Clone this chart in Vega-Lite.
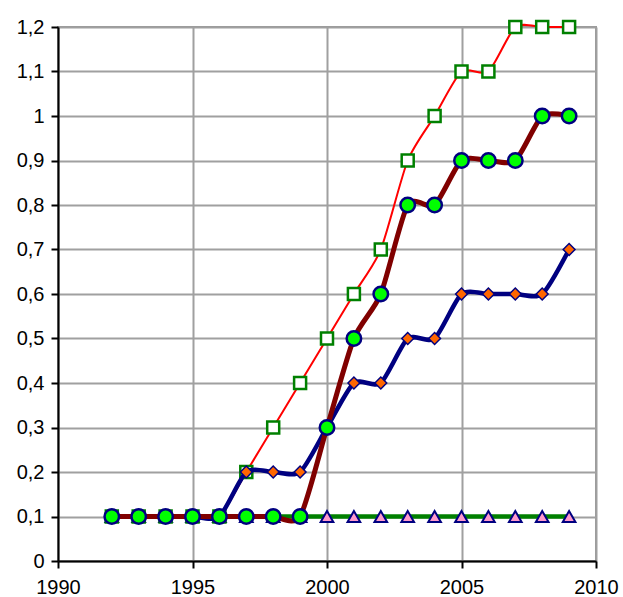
{
  "$schema": "https://vega.github.io/schema/vega-lite/v6.json",
  "autosize": "none",
  "width": 538,
  "height": 534,
  "padding": {"left": 58, "top": 27, "right": 27, "bottom": 36},
  "background": "white",
  "config": {
    "view": {"stroke": "#999999", "strokeWidth": 2},
    "axis": {
      "labelFont": "Liberation Sans",
      "labelFontSize": 20,
      "labelColor": "black",
      "gridColor": "#a0a0a0",
      "gridWidth": 2,
      "gridOpacity": 1,
      "domainColor": "black",
      "domainWidth": 2,
      "tickColor": "black",
      "tickWidth": 2,
      "tickSize": 7,
      "title": null
    }
  },
  "data": {
    "values": [
      {"s": "T", "year": 1992, "v": 0.1}, {"s": "T", "year": 1993, "v": 0.1}, {"s": "T", "year": 1994, "v": 0.1}, {"s": "T", "year": 1995, "v": 0.1}, {"s": "T", "year": 1996, "v": 0.1}, {"s": "T", "year": 1997, "v": 0.1}, {"s": "T", "year": 1998, "v": 0.1}, {"s": "T", "year": 1999, "v": 0.1}, {"s": "T", "year": 2000, "v": 0.1}, {"s": "T", "year": 2001, "v": 0.1}, {"s": "T", "year": 2002, "v": 0.1}, {"s": "T", "year": 2003, "v": 0.1}, {"s": "T", "year": 2004, "v": 0.1}, {"s": "T", "year": 2005, "v": 0.1}, {"s": "T", "year": 2006, "v": 0.1}, {"s": "T", "year": 2007, "v": 0.1}, {"s": "T", "year": 2008, "v": 0.1}, {"s": "T", "year": 2009, "v": 0.1},
      {"s": "S", "year": 1992, "v": 0.1}, {"s": "S", "year": 1993, "v": 0.1}, {"s": "S", "year": 1994, "v": 0.1}, {"s": "S", "year": 1995, "v": 0.1}, {"s": "S", "year": 1996, "v": 0.1}, {"s": "S", "year": 1997, "v": 0.2}, {"s": "S", "year": 1998, "v": 0.3}, {"s": "S", "year": 1999, "v": 0.4}, {"s": "S", "year": 2000, "v": 0.5}, {"s": "S", "year": 2001, "v": 0.6}, {"s": "S", "year": 2002, "v": 0.7}, {"s": "S", "year": 2003, "v": 0.9}, {"s": "S", "year": 2004, "v": 1.0}, {"s": "S", "year": 2005, "v": 1.1}, {"s": "S", "year": 2006, "v": 1.1}, {"s": "S", "year": 2007, "v": 1.2}, {"s": "S", "year": 2008, "v": 1.2}, {"s": "S", "year": 2009, "v": 1.2},
      {"s": "D", "year": 1992, "v": 0.1}, {"s": "D", "year": 1993, "v": 0.1}, {"s": "D", "year": 1994, "v": 0.1}, {"s": "D", "year": 1995, "v": 0.1}, {"s": "D", "year": 1996, "v": 0.1}, {"s": "D", "year": 1997, "v": 0.2}, {"s": "D", "year": 1998, "v": 0.2}, {"s": "D", "year": 1999, "v": 0.2}, {"s": "D", "year": 2000, "v": 0.3}, {"s": "D", "year": 2001, "v": 0.4}, {"s": "D", "year": 2002, "v": 0.4}, {"s": "D", "year": 2003, "v": 0.5}, {"s": "D", "year": 2004, "v": 0.5}, {"s": "D", "year": 2005, "v": 0.6}, {"s": "D", "year": 2006, "v": 0.6}, {"s": "D", "year": 2007, "v": 0.6}, {"s": "D", "year": 2008, "v": 0.6}, {"s": "D", "year": 2009, "v": 0.7},
      {"s": "C", "year": 1992, "v": 0.1}, {"s": "C", "year": 1993, "v": 0.1}, {"s": "C", "year": 1994, "v": 0.1}, {"s": "C", "year": 1995, "v": 0.1}, {"s": "C", "year": 1996, "v": 0.1}, {"s": "C", "year": 1997, "v": 0.1}, {"s": "C", "year": 1998, "v": 0.1}, {"s": "C", "year": 1999, "v": 0.1}, {"s": "C", "year": 2000, "v": 0.3}, {"s": "C", "year": 2001, "v": 0.5}, {"s": "C", "year": 2002, "v": 0.6}, {"s": "C", "year": 2003, "v": 0.8}, {"s": "C", "year": 2004, "v": 0.8}, {"s": "C", "year": 2005, "v": 0.9}, {"s": "C", "year": 2006, "v": 0.9}, {"s": "C", "year": 2007, "v": 0.9}, {"s": "C", "year": 2008, "v": 1.0}, {"s": "C", "year": 2009, "v": 1.0}
    ]
  },
  "encoding": {
    "x": {
      "field": "year", "type": "quantitative",
      "scale": {"domain": [1990, 2010], "nice": false, "zero": false},
      "axis": {"values": [1990, 1995, 2000, 2005, 2010], "format": "d", "labelPadding": 9, "labelFlush": false}
    },
    "y": {
      "field": "v", "type": "quantitative",
      "scale": {"domain": [0, 1.2], "nice": false},
      "axis": {"values": [0, 0.1, 0.2, 0.3, 0.4, 0.5, 0.6, 0.7, 0.8, 0.9, 1.0, 1.1, 1.2], "labelExpr": "replace(format(datum.value, '.1~f'), '.', ',')", "labelPadding": 7}
    }
  },
  "layer": [
    {"transform": [{"filter": "datum.s === 'T'"}], "mark": {"type": "line", "color": "#008000", "strokeWidth": 4.5, "interpolate": "cardinal", "tension": 0.3}},
    {"transform": [{"filter": "datum.s === 'T'"}], "mark": {"type": "point", "shape": "triangle-up", "filled": true, "fill": "#ff99cc", "stroke": "#000080", "strokeWidth": 2, "size": 160, "opacity": 1}},
    {"transform": [{"filter": "datum.s === 'S'"}], "mark": {"type": "line", "color": "#ff0000", "strokeWidth": 2, "interpolate": "cardinal", "tension": 0.3}},
    {"transform": [{"filter": "datum.s === 'S'"}], "mark": {"type": "point", "shape": "square", "filled": true, "fill": "white", "stroke": "#008000", "strokeWidth": 2.5, "size": 144, "opacity": 1}},
    {"transform": [{"filter": "datum.s === 'D'"}], "mark": {"type": "line", "color": "#000080", "strokeWidth": 4.5, "interpolate": "cardinal", "tension": 0.3}},
    {"transform": [{"filter": "datum.s === 'D'"}], "mark": {"type": "point", "shape": "diamond", "filled": true, "fill": "#ff6600", "stroke": "#000080", "strokeWidth": 1.5, "size": 140, "opacity": 1}},
    {"transform": [{"filter": "datum.s === 'C'"}], "mark": {"type": "line", "color": "#800000", "strokeWidth": 5, "interpolate": "cardinal", "tension": 0.3}},
    {"transform": [{"filter": "datum.s === 'C'"}], "mark": {"type": "point", "shape": "circle", "filled": true, "fill": "#00ff00", "stroke": "#000080", "strokeWidth": 2.5, "size": 210, "opacity": 1}}
  ]
}
